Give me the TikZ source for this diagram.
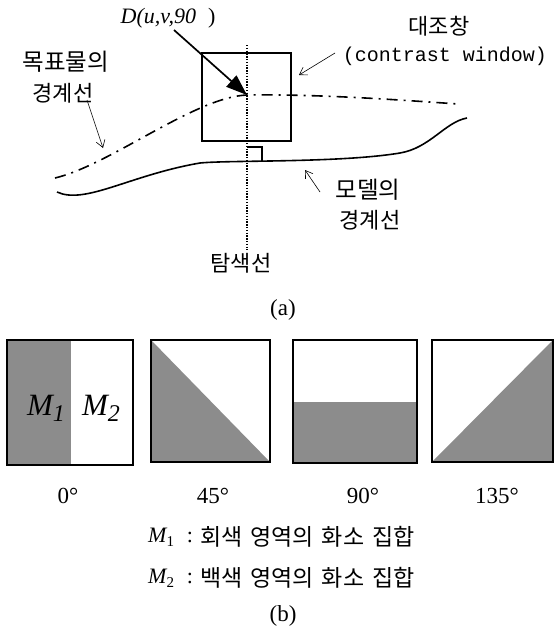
\documentclass[tikz,border=0pt]{standalone}
\usepackage{fontspec}
\setmainfont{Liberation Serif}
\newfontfamily\kr{Noto Sans CJK KR}
\newfontfamily\mono{Liberation Mono}
\usetikzlibrary{arrows.meta}
\begin{document}
\begin{tikzpicture}[x=1pt,y=-1pt,
  lbl/.style={inner sep=0pt, font=\kr\fontsize{22}{24}\selectfont},
  biglbl/.style={inner sep=0pt, font=\kr\fontsize{23.5}{26}\selectfont},
  rm/.style={inner sep=0pt, font=\fontsize{23}{26}\selectfont},
  legend/.style={inner sep=0pt, anchor=west, font=\kr\fontsize{23}{26}\selectfont},
  thinarrow/.style={-{Straight Barb[length=7pt,width=9pt]}, line width=0.6pt},
  sqbox/.style={draw, line width=2.4pt},
  shade/.style={fill=black!45},
  targetline/.style={line width=1.6pt, dash pattern=on 11pt off 6pt on 2pt off 6pt},
  modelline/.style={line width=1.6pt},
  searchline/.style={line width=1.4pt, dash pattern=on 1.4pt off 1.4pt}]
\useasboundingbox (0,0) rectangle (555,635);

% ---------- (a) ----------
\node[inner sep=0pt, font=\fontsize{22}{24}\selectfont] (D) at (168,18) {\itshape D(u,v,90\hspace{12pt}\upshape)};
\node[lbl] (dj) at (439,26) {대조창};
\node[inner sep=0pt, font=\mono\fontsize{20}{22}\selectfont] (cw) at (445,56) {(contrast window)};
\node[biglbl] (tb1) at (66,62) {목표물의};
\node[lbl] (tb2) at (63,93) {경계선};
\node[biglbl] (mb1) at (368,190) {모델의};
\node[lbl] (mb2) at (370,220) {경계선};
\node[lbl] (ts) at (241,263) {탐색선};
\node[rm] (a) at (283,310) {(a)};

% contrast window
\draw[line width=1.4pt] (202,53) rectangle (291,141);
% search line
\coordinate (st) at (247,45);
\coordinate (sb) at (247,250);
\draw[searchline] (st) -- (sb);
% target boundary
\coordinate (P) at (247,95);
\draw[targetline] (55,178) .. controls (110,165) and (195,97) .. (P) .. controls (320,94) and (400,100) .. (458,104);
% model boundary
\draw[modelline] (57,192) .. controls (85,205) and (130,175) .. (200,163) .. controls (230,160) and (340,163) .. (400,153) .. controls (430,148) and (445,122) .. (467,118);
% right angle mark
\draw[line width=1.2pt] (247,147) -- (262,147) -- (262,162);
% D arrow
\coordinate (Ds) at (174,30);
\draw[line width=1.7pt, -{Triangle[length=21pt,width=15pt]}] (Ds) -- (P);
% thin arrows
\coordinate (c1) at (335,53); \coordinate (c2) at (299,75);
\draw[thinarrow] (c1) -- (c2);
\coordinate (t1) at (87,100); \coordinate (t2) at (103,148);
\draw[thinarrow] (t1) -- (t2);
\coordinate (m1) at (320,192); \coordinate (m2) at (305,170);
\draw[thinarrow] (m1) -- (m2);

% ---------- (b) ----------
% box 0
\fill[shade] (7,340) rectangle (71,465);
\draw[sqbox] (7,340) rectangle (133,465);
\node[inner sep=0pt, font=\itshape\fontsize{31}{31}\selectfont] (M1) at (46,408) {M\raisebox{-6pt}{\fontsize{24}{24}\selectfont 1}};
\node[inner sep=0pt, font=\itshape\fontsize{31}{31}\selectfont] (M2) at (101,408) {M\raisebox{-6pt}{\fontsize{24}{24}\selectfont 2}};
% box 45
\fill[shade] (151,340) -- (151,462) -- (270,462) -- cycle;
\draw[sqbox] (151,340) rectangle (270,462);
% box 90
\fill[shade] (293,402) rectangle (417,463);
\draw[sqbox] (293,340) rectangle (417,463);
% box 135
\fill[shade] (432,462) -- (553,340) -- (553,462) -- cycle;
\draw[sqbox] (432,340) rectangle (553,462);

\node[rm] (d0) at (68,496) {0°};
\node[rm] (d45) at (213,496) {45°};
\node[rm] (d90) at (363,496) {90°};
\node[rm] (d135) at (497,496) {135°};

\node[inner sep=0pt, anchor=west, font=\fontsize{22}{24}\selectfont] (l1m) at (148,537) {\itshape M\upshape\raisebox{-4pt}{\fontsize{15}{15}\selectfont 1}};
\node[inner sep=0pt, font=\fontsize{22}{24}\selectfont] (l1c) at (190,537) {:};
\node[legend] (l1t) at (200,537) {회색\hspace{8pt}영역의\hspace{8pt}화소\hspace{8pt}집합};
\node[inner sep=0pt, anchor=west, font=\fontsize{22}{24}\selectfont] (l2m) at (148,578) {\itshape M\upshape\raisebox{-4pt}{\fontsize{15}{15}\selectfont 2}};
\node[inner sep=0pt, font=\fontsize{22}{24}\selectfont] (l2c) at (190,578) {:};
\node[legend] (l2t) at (200,578) {백색\hspace{8pt}영역의\hspace{8pt}화소\hspace{8pt}집합};
\node[rm] (b) at (283,616) {(b)};
\end{tikzpicture}
\end{document}
